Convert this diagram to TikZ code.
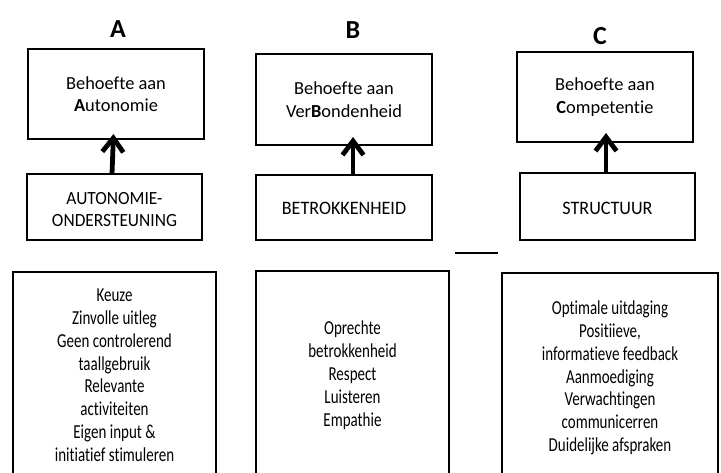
\documentclass[tikz,border=0pt]{standalone}
\usepackage{fontspec}
\usepackage{graphicx}
\setmainfont[Ligatures=NoCommon]{Carlito}
\usetikzlibrary{arrows.meta,calc}
\newcommand{\vstack}[2]{\scalebox{1}[#1]{\begin{tabular}{@{}c@{}}#2\end{tabular}}}
\newcommand{\lowered}[2]{\raisebox{-#1}[\height][\depth]{#2}}
\begin{document}
\begin{tikzpicture}[x=1pt,y=-1pt,
  every node/.style={inner sep=0pt,outer sep=0pt},
  box/.style={draw=black,line width=1.6pt,rectangle,align=center,
    font=\fontsize{18.4}{22.4}\selectfont},
  listbox/.style={box,font=\fontsize{15}{17.3}\selectfont},
  title/.style={font=\fontsize{26}{30}\selectfont\bfseries},
  uparrow/.style={line width=4.8pt,-{Straight Barb[length=14pt,width=21pt]}}]
\useasboundingbox (0,0) rectangle (721,473);
\clip (0,0) rectangle (721,473);
\fill[white] (0,0) rectangle (721,473);
% titles
\node[title] (ta) at (118,29) {A};
\node[title] (tb) at (353,30) {B};
\node[title] (tc) at (600,36) {C};
% need boxes
\node[box,minimum width=176pt,minimum height=90pt] (a1) at (116,94)
  {Behoefte aan\\\textbf{A}utonomie};
\node[box,minimum width=176pt,minimum height=91pt] (b1) at (344,99.5)
  {Behoefte aan\\Ver\textbf{B}ondenheid};
\node[box,minimum width=176pt,minimum height=90pt] (c1) at (605,97)
  {Behoefte aan\\\textbf{C}ompetentie};
% support boxes
\node[box,font=\fontsize{17.4}{20.5}\selectfont,minimum width=175pt,minimum height=66pt] (a2) at (114.5,207)
  {\lowered{4.5pt}{\vstack{1.07}{AUTONOMIE-\\ONDERSTEUNING}}};
\node[box,font=\fontsize{18.1}{21}\selectfont,minimum width=176pt,minimum height=65pt] (b2) at (344,207.5)
  {\lowered{3pt}{\vstack{1.05}{BETROKKENHEID}}};
\node[box,font=\fontsize{18.1}{21}\selectfont,minimum width=175pt,minimum height=67pt] (c2) at (607.5,206.5)
  {\lowered{4pt}{\vstack{1.05}{STRUCTUUR}}};
% arrows
\draw[uparrow] ([xshift=-2.5pt]a2.north) -- ([xshift=-2.5pt,yshift=5pt]a1.south);
\draw[uparrow] ([xshift=9pt]b2.north) -- ([xshift=9pt,yshift=8pt]b1.south);
\draw[uparrow] ([xshift=-1.5pt]c2.north) -- ([xshift=1pt,yshift=9pt]c1.south);
% small line
\coordinate (l1) at (455,253);
\coordinate (l2) at (498,253);
\draw[line width=2.4pt] (l1) -- (l2);
% bottom boxes
\node[listbox,minimum width=203pt,minimum height=210pt] (a3) at (114.5,377)
  {\vstack{1.32}{Keuze\\Zinvolle uitleg\\Geen controlerend\\taallgebruik\\Relevante\\activiteiten\\Eigen input \&\\initiatief stimuleren}};
\node[listbox,minimum width=193pt,minimum height=210pt] (b3) at (352.5,376)
  {\vstack{1.32}{Oprechte\\betrokkenheid\\Respect\\Luisteren\\Empathie}};
\node[listbox,minimum width=216pt,minimum height=211pt] (c3) at (610,378.5)
  {\vstack{1.32}{Optimale uitdaging\\Positiieve,\\informatieve feedback\\Aanmoediging\\Verwachtingen\\communicerren\\Duidelijke afspraken}};
\end{tikzpicture}
\end{document}
